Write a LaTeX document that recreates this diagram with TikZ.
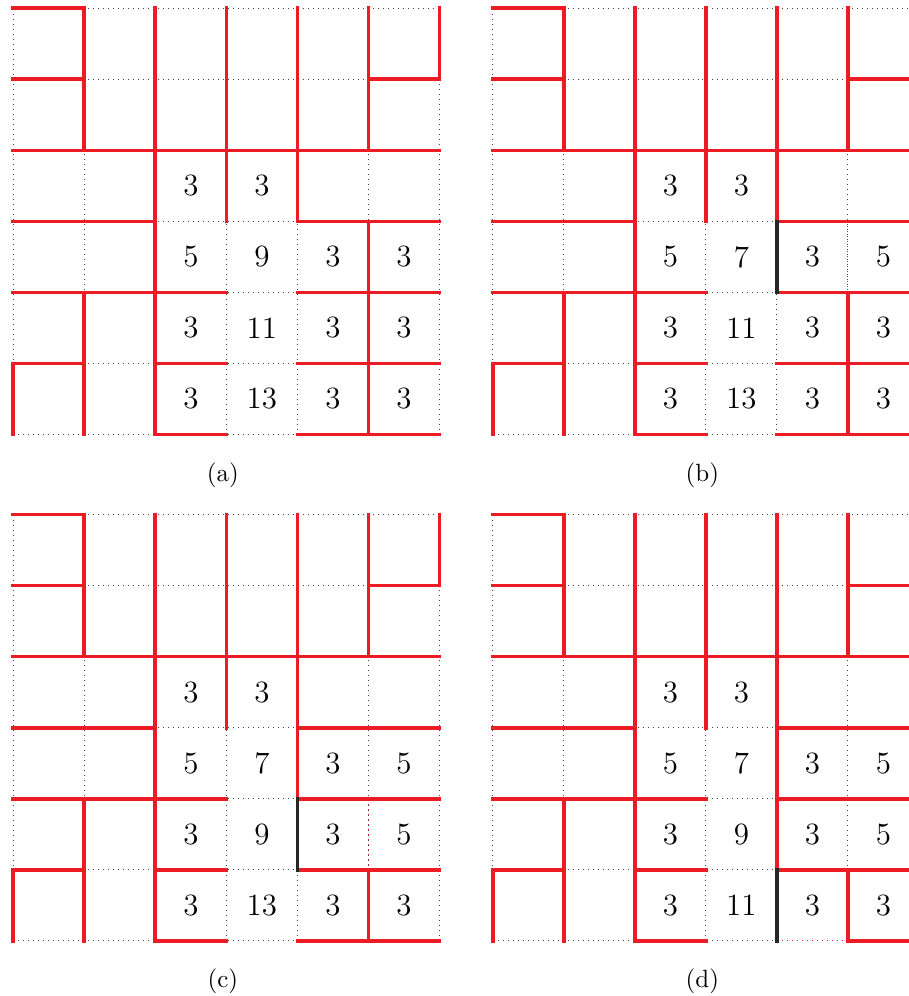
\documentclass[tikz,border=0pt]{standalone}
\usepackage{tikz}

\definecolor{wallred}{RGB}{237,28,36}

\newcommand\commonwalls{%
    \draw[gridline] (0,0) grid (6,6);
    \draw[wall] (0,6) -- (1,6) -- (1,4);
    \draw[wall] (0,5) -- (1,5);
    \draw[wall] (5,5) -- (6,5) -- (6,6);
    \draw[wall] (5,6) -- (5,4);
    \draw[wall] (2,6) -- (2,0);
    \draw[wall] (3,6) -- (3,3);
    \draw[wall] (4,6) -- (4,3) -- (6,3);
    \draw[wall] (0,4) -- (6,4);
    \draw[wall] (0,3) -- (2,3);
    \draw[wall] (0,2) -- (3,2);
    \draw[wall] (4,2) -- (6,2);
    \draw[wall] (1,2) -- (1,0);
    \draw[wall] (0,0) -- (0,1) -- (1,1);
    \draw[wall] (2,1) -- (3,1);
    \draw[wall] (4,1) -- (6,1);
    \draw[wall] (2,0) -- (3,0);
}

\newcommand\cellnums[4]{%
    \node[num] (#1-2-2) at (2.5,3.5) {3};
    \node[num] (#1-2-3) at (3.5,3.5) {3};
    \foreach \y/\row [count=\r from 3] in {2.5/{#2},1.5/{#3},0.5/{#4}}
        \foreach \v [count=\c from 2] in \row
            \node[num] (#1-\r-\c) at (\c+0.5,\y) {\v};
}

\begin{document}
\begin{tikzpicture}[x=1cm,y=1cm,
    gridline/.style={line width=0.4pt, dash pattern=on 0.4pt off 1.6pt, black!75},
    wall/.style={line width=1.5pt, wallred, line cap=rect},
    cut/.style={line width=1.5pt, black!85, line cap=rect},
    faint/.style={line width=0.4pt, dash pattern=on 0.4pt off 1.6pt, wallred},
    num/.style={font=\fontsize{12.4}{15}\selectfont},
    sublabel/.style={font=\normalsize}]

    \useasboundingbox (-0.187,-7.904) rectangle (12.597,6.117);

    % (a)
    \begin{scope}
        \commonwalls
        \draw[wall] (5,3) -- (5,0);
        \draw[wall] (4,0) -- (6,0);
        \cellnums{a}{5,9,3,3}{3,11,3,3}{3,13,3,3}
        \node[sublabel] (la) at (2.95,-0.57) {(a)};
    \end{scope}

    % (b)
    \begin{scope}[shift={(6.75,0)}]
        \commonwalls
        \draw[faint] (5,3) -- (5,2);
        \draw[wall] (5,2) -- (5,0);
        \draw[wall] (4,0) -- (6,0);
        \draw[cut] (4,3) -- (4,2);
        \cellnums{b}{5,7,3,5}{3,11,3,3}{3,13,3,3}
        \node[sublabel] (lb) at (2.95,-0.57) {(b)};
    \end{scope}

    % (c)
    \begin{scope}[shift={(0,-7.126)}]
        \commonwalls
        \draw[wall] (4,3) -- (4,2);
        \draw[faint] (5,2) -- (5,1);
        \draw[wall] (5,1) -- (5,0);
        \draw[wall] (4,0) -- (6,0);
        \draw[cut] (4,2) -- (4,1);
        \cellnums{c}{5,7,3,5}{3,9,3,5}{3,13,3,3}
        \node[sublabel] (lc) at (2.95,-0.57) {(c)};
    \end{scope}

    % (d)
    \begin{scope}[shift={(6.75,-7.126)}]
        \commonwalls
        \draw[wall] (4,3) -- (4,1);
        \draw[faint] (4,0) -- (5,0);
        \draw[wall] (5,1) -- (5,0) -- (6,0);
        \draw[cut] (4,1) -- (4,0);
        \cellnums{d}{5,7,3,5}{3,9,3,5}{3,11,3,3}
        \node[sublabel] (ld) at (2.95,-0.57) {(d)};
    \end{scope}
\end{tikzpicture}
\end{document}
